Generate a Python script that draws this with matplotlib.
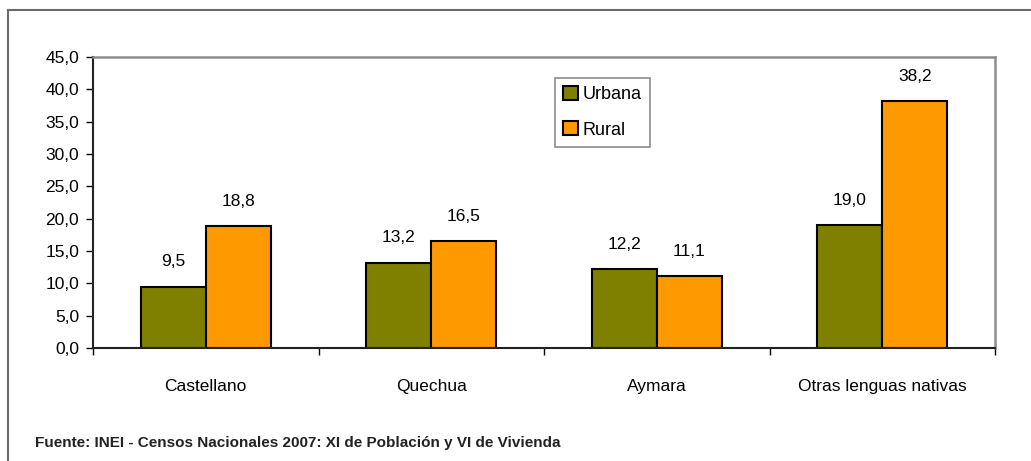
import numpy as np
import matplotlib.pyplot as plt
from matplotlib.lines import Line2D

# datos
categorias = ['Castellano', 'Quechua', 'Aymara', 'Otras lenguas nativas']
urbana = [9.5, 13.2, 12.2, 19.0]
rural = [18.8, 16.5, 11.1, 38.2]
yticks = np.arange(0, 45.1, 5)

plt.rcParams['font.family'] = ['Liberation Sans Narrow', 'Liberation Sans', 'DejaVu Sans']

fig = plt.figure(figsize=(10.31, 4.61), dpi=100)
ax = fig.add_axes([93/1031, 1 - 348/461, (995 - 93)/1031, (348 - 57)/461])

x = np.arange(len(categorias))
w = 0.288
b1 = ax.bar(x - w/2, urbana, w, color='#808000', edgecolor='black', linewidth=1.5, label='Urbana')
b2 = ax.bar(x + w/2, rural, w, color='#FF9900', edgecolor='black', linewidth=1.5, label='Rural')

# etiquetas de valores
for bars, vals in [(b1, urbana), (b2, rural)]:
    for b, v in zip(bars, vals):
        ax.annotate(f'{v:.1f}'.replace('.', ','), (b.get_x() + b.get_width()/2, v),
                    xytext=(0, 12.5), textcoords='offset points',
                    ha='center', va='bottom', fontsize=12.5)

ax.set_xlim(-0.5, len(categorias) - 0.5)
ax.set_ylim(0, 45)
ax.set_yticks(yticks)
ax.set_yticklabels([f'{t:.1f}'.replace('.', ',') for t in yticks], fontsize=12.5)
ax.tick_params(axis='y', length=5, width=1, pad=5)

ax.set_xticks(x)
ax.set_xticklabels(categorias, fontsize=12.5)
ax.tick_params(axis='x', which='major', length=0, pad=22)
ax.set_xticks(np.arange(-0.5, len(categorias)), minor=True)
ax.tick_params(axis='x', which='minor', length=5, width=1)

for s in ['top', 'right']:
    ax.spines[s].set_color('#8c8c8c')
    ax.spines[s].set_linewidth(1.8)
for s in ['left', 'bottom']:
    ax.spines[s].set_color('#222222')
    ax.spines[s].set_linewidth(1.5)

leg = ax.legend(loc='upper left', bbox_to_anchor=(462/902, 1 - 21/291), fontsize=13,
                frameon=True, fancybox=False, edgecolor='#8c8c8c', framealpha=1,
                handlelength=0.8, handleheight=0.8, handletextpad=0.3,
                labelspacing=1.0, borderpad=0.45, borderaxespad=0)
leg.get_frame().set_linewidth(1.2)

# marco exterior
fig.add_artist(Line2D([8/1031, 1], [1 - 10/461, 1 - 10/461], color='#6a6a6a', linewidth=1.5))
fig.add_artist(Line2D([8/1031, 8/1031], [0, 1 - 10/461], color='#6a6a6a', linewidth=1.5))

fig.text(35/1031, 1 - 443/461, 'Fuente: INEI - Censos Nacionales 2007: XI de Población y VI de Vivienda',
         fontsize=11, fontweight='bold', va='center', ha='left', color='#222222')

fig.savefig('out.png', dpi=100)
